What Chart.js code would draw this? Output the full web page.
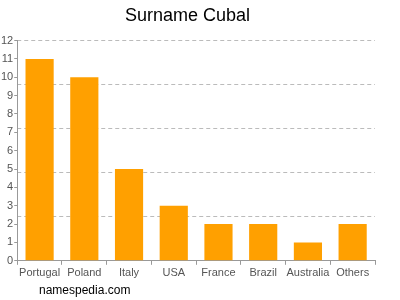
<!DOCTYPE html>
<html>
<head>
<meta charset="utf-8">
<script src="https://cdn.jsdelivr.net/npm/chart.js@4"></script>
<style>
	html, body { margin: 0; padding: 0; background: #fff; }
	#wrap { width: 400px; height: 300px; }
</style>
</head>
<body>
<div id="wrap"><canvas id="chart"></canvas></div>
<script>
const countries = [ 'Portugal', 'Poland', 'Italy', 'USA', 'France', 'Brazil', 'Australia', 'Others' ];
const counts = [ 11, 10, 5, 3, 2, 2, 1, 2 ];
const yMax = 12;
const gridStep = 2.4;

const footer = {
	id: 'footer',
	afterDraw( chart ) {
		const ctx = chart.ctx;
		ctx.save();
		ctx.font = '12px "Liberation Sans", Arial, sans-serif';
		ctx.fillStyle = '#000';
		ctx.textBaseline = 'middle';
		ctx.fillText( 'namespedia.com', 39, 291 );
		ctx.restore();
	},
};

new Chart( document.getElementById( 'chart' ), {
	type: 'bar',
	data: {
		labels: countries,
		datasets: [
			{
				data: counts,
				backgroundColor: '#ffa000',
				barPercentage: 0.63,
				categoryPercentage: 1,
			},
		],
	},
	options: {
		responsive: true,
		maintainAspectRatio: false,
		animation: false,
		layout: {
			padding: { left: 0, right: 25, top: 0, bottom: 18 },
		},
		plugins: {
			legend: { display: false },
			tooltip: { enabled: false },
			title: {
				display: true,
				text: 'Surname Cubal',
				color: '#000',
				font: { family: '"Liberation Sans", Arial, sans-serif', size: 18, weight: 'normal' },
				padding: { top: 5, bottom: 14 },
			},
		},
		scales: {
			x: {
				grid: { drawOnChartArea: false, tickLength: 4, color: '#999' },
				border: { color: '#999' },
				ticks: {
					color: '#555',
					padding: 2,
					maxRotation: 0,
					autoSkip: false,
					font: { family: '"Liberation Sans", Arial, sans-serif', size: 11 },
				},
			},
			y: {
				min: 0,
				max: yMax,
				grid: { drawOnChartArea: false, tickLength: 3, color: '#999' },
				border: { color: '#999' },
				ticks: {
					stepSize: 1,
					color: '#555',
					padding: 1,
					font: { family: '"Liberation Sans", Arial, sans-serif', size: 11 },
				},
			},
			y2: {
				position: 'right',
				min: 0,
				max: yMax,
				grid: { color: '#bbb', drawTicks: false },
				border: { display: false, dash: [ 4, 3 ] },
				ticks: { display: false, stepSize: gridStep },
			},
		},
	},
	plugins: [ footer ],
} );
</script>
</body>
</html>
